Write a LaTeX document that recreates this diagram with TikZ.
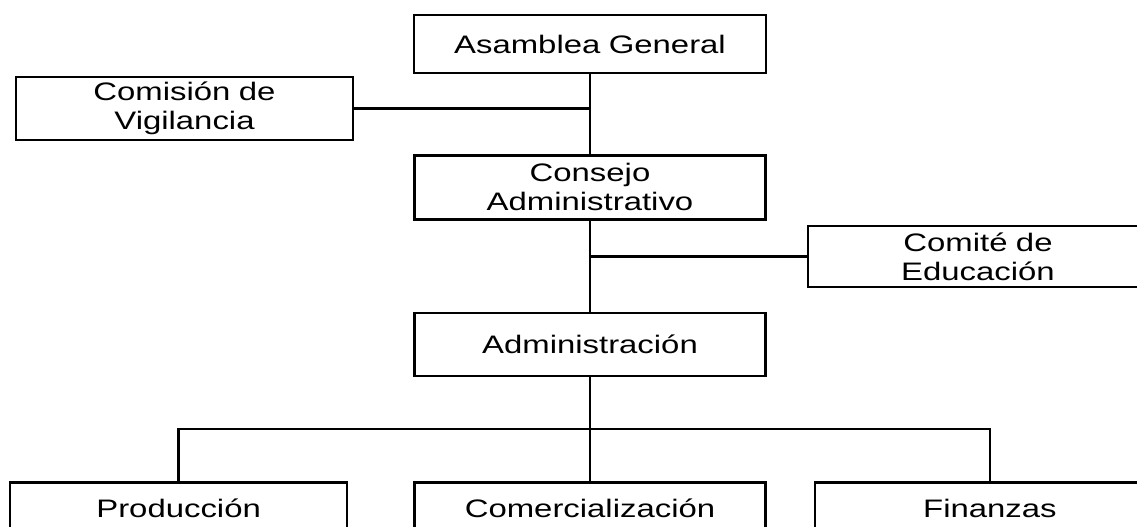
\documentclass[tikz,border=0pt]{standalone}
\usepackage{fontspec}
\setmainfont{Liberation Sans}[FakeStretch=1.3]
\usetikzlibrary{arrows,shapes,positioning}

\begin{document}
\begin{tikzpicture}[x=0.02cm, y=-0.02cm, thick,
    block/.style={rectangle, draw, line width=1.4pt, inner sep=0pt, text width=6.2cm, align=center, minimum width=7.02cm, minimum height=1.28cm, font=\fontsize{14.4}{16.5}\selectfont},
    lowblock/.style={block, text height=0.7cm, text depth=1cm},
    line/.style={draw, line width=1.4pt}]

    \useasboundingbox (0,0) rectangle (1137,527);

    \node [block, minimum width=7.04cm, minimum height=1.16cm] (asamblea) at (590,44) {Asamblea General};
    \node [block, minimum width=6.74cm, minimum height=1.26cm] (comision) at (184.5,108.5) {Comisión de\\Vigilancia};
    \node [block, below=1.6cm of asamblea] (consejo) {Consejo\\Administrativo};
    \node [block, minimum width=6.8cm, minimum height=1.22cm] (comite) at (978,256.5) {Comité de\\Educación};
    \node [block, minimum height=1.26cm, below=1.82cm of consejo] (admin) {Administración};

    \node [lowblock, below=2.08cm of admin] (comercial) {Comercialización};
    \node [lowblock, minimum width=6.74cm, left=1.3cm of comercial] (produccion) {Producción};
    \node [lowblock, minimum width=7cm, right=0.94cm of comercial] (finanzas) {Finanzas};

    \coordinate (bus) at (589.5,429);

    \path [line] (asamblea) -- (consejo);
    \path [line] (comision.east) -- (comision.east -| asamblea.south);
    \path [line] (consejo) -- (admin);
    \path [line] (comite.west) -- (comite.west -| consejo.south);
    \path [line] (admin) -- (comercial);
    \path [line] (produccion.north) |- (bus) -| (finanzas.north);
\end{tikzpicture}
\end{document}
